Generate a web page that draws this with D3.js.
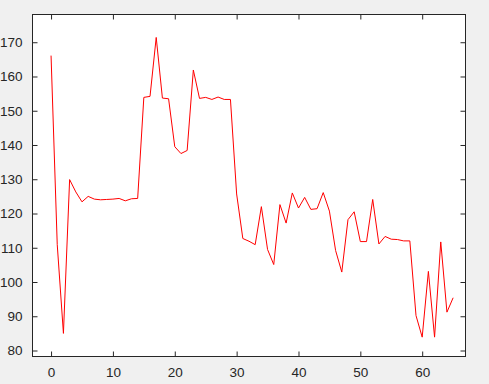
<!DOCTYPE html>
<html><head><meta charset="utf-8">
<script src="https://cdn.jsdelivr.net/npm/d3@7"></script>
<style>
html,body{margin:0;padding:0;background:#f0f0f0;}
svg{display:block;}
text{font-family:"Liberation Sans",Arial,sans-serif;}
</style></head>
<body>
<svg id="c" width="489" height="384"></svg>
<script>
const xIndex = d3.range(0, 66);
const values = [166.1,110.9,85.0,129.9,126.3,123.4,125.0,124.2,124.0,124.1,124.2,124.4,123.7,124.3,124.4,
153.9,154.2,171.4,153.7,153.5,139.5,137.5,138.4,161.9,153.6,153.9,153.3,154.0,153.3,153.3,
125.7,112.7,111.9,110.9,122.0,109.5,105.1,122.6,117.2,126.0,121.6,124.7,121.2,121.4,126.1,
120.7,109.2,102.9,118.2,120.5,111.8,111.8,124.1,111.1,113.3,112.5,112.4,112.0,112.0,90.2,
83.9,103.1,83.9,111.7,91.2,95.4];
const xTicks = [0,10,20,30,40,50,60];
const yTicks = [80,90,100,110,120,130,140,150,160,170];

const svg = d3.select("#c");
const L = 32.5, R = 465.5, T = 14.5, B = 356.5;
const x = d3.scaleLinear().domain([-3, 67]).range([L, R]);
const y = d3.scaleLinear().domain([78.25, 178.1]).range([B, T]);

svg.append("rect").attr("x", L).attr("y", T).attr("width", R-L).attr("height", B-T)
  .attr("fill", "#fff");

const tk = 5;
const col = "#262626";
function style(g){
  g.select(".domain").remove();
  g.selectAll("line").attr("stroke", col);
  g.selectAll("text").attr("fill", col).style("font-size","13.5px");
}
svg.append("g").attr("transform",`translate(0,${B})`)
  .call(d3.axisBottom(x).tickValues(xTicks).tickSize(-tk).tickPadding(11).tickFormat(d3.format("d")))
  .call(style);
svg.append("g").attr("transform",`translate(0,${T})`)
  .call(d3.axisTop(x).tickValues(xTicks).tickSize(-tk).tickFormat(""))
  .call(style);
svg.append("g").attr("transform",`translate(${L},0)`)
  .call(d3.axisLeft(y).tickValues(yTicks).tickSize(-tk).tickPadding(10).tickFormat(d3.format("d")))
  .call(style);
svg.append("g").attr("transform",`translate(${R},0)`)
  .call(d3.axisRight(y).tickValues(yTicks).tickSize(-tk).tickFormat(""))
  .call(style);

const line = d3.line().x((d,i)=>x(xIndex[i])).y(d=>y(d));
svg.append("path").datum(values).attr("d", line)
  .attr("fill","none").attr("stroke","#ff0000").attr("stroke-width",1);

svg.append("rect").attr("x", L).attr("y", T).attr("width", R-L).attr("height", B-T)
  .attr("fill", "none").attr("stroke", col).attr("stroke-width", 1);
</script>
</body></html>
